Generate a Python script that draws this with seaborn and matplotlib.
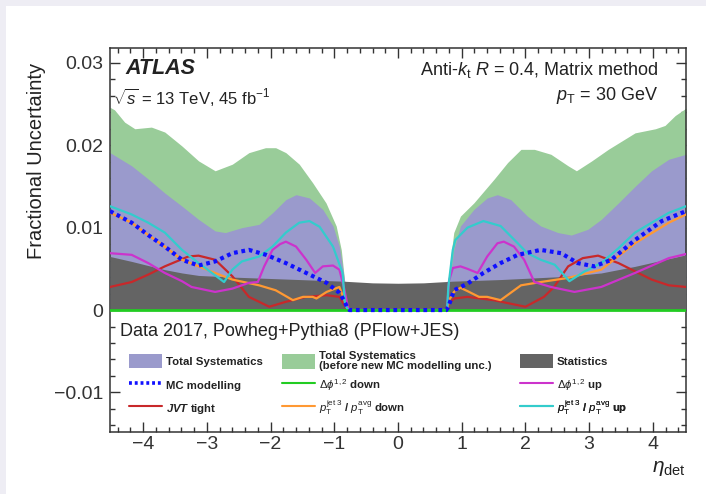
import numpy as np
import pandas as pd
import matplotlib
matplotlib.use("Agg")
import matplotlib.pyplot as plt
from matplotlib.patches import Patch, Rectangle
from matplotlib.lines import Line2D
from matplotlib.ticker import MultipleLocator, FuncFormatter
import seaborn as sns

# ---------------- data ----------------
tot_before_eta = [-4.52, -4.45, -4.29, -4.13, -3.87, -3.66, -3.39, -3.13, -2.87, -2.60, -2.34, -2.08,
                  -1.92, -1.76, -1.55, -1.34, -1.13, -0.97, -0.89, -0.84, -0.79, -0.77,
                  0.77, 0.79, 0.81, 0.875, 0.98, 1.19, 1.51, 1.72, 1.93, 2.14, 2.40, 2.67, 2.80,
                  3.04, 3.30, 3.72, 4.04, 4.19, 4.35, 4.52]
tot_before_val = [0.0246, 0.0243, 0.0228, 0.0220, 0.0222, 0.0216, 0.0199, 0.0181, 0.0169, 0.0177, 0.0191, 0.0197,
                  0.0197, 0.0191, 0.0177, 0.01545, 0.0130, 0.0102, 0.0073, 0.0037, 0.0002, 0.0,
                  0.0, 0.0020, 0.0053, 0.0094, 0.0114, 0.0130, 0.0159, 0.0179, 0.0195, 0.0195, 0.0189, 0.0175, 0.0169,
                  0.0181, 0.0195, 0.0215, 0.0220, 0.0224, 0.0236, 0.0245]

tot_sys_eta = [-4.52, -4.18, -3.92, -3.66, -3.39, -3.13, -2.87, -2.71, -2.45, -2.18, -1.97, -1.76, -1.60,
               -1.39, -1.18, -1.02, -0.92, -0.84, -0.79, -0.77,
               0.77, 0.80, 0.875, 0.98, 1.19, 1.40, 1.56, 1.77, 2.03, 2.24, 2.51, 2.72, 2.98, 3.19,
               3.46, 3.72, 3.98, 4.25, 4.52]
tot_sys_val = [0.0191, 0.0175, 0.0159, 0.0142, 0.0126, 0.0110, 0.0096, 0.0094, 0.0100, 0.0104, 0.0118, 0.0134, 0.0140,
               0.0136, 0.0122, 0.0102, 0.0077, 0.0037, 0.0002, 0.0,
               0.0, 0.0028, 0.0073, 0.0102, 0.0122, 0.0136, 0.0140, 0.0134, 0.0114, 0.0102, 0.0094, 0.0091, 0.0098, 0.0110,
               0.0130, 0.0150, 0.0169, 0.0183, 0.0189]

stat_eta = [-4.52, -4.18, -3.66, -3.39, -3.13, -2.60, -1.55, -0.85, -0.4, 0.0, 0.4, 0.85, 1.61, 2.67,
            3.19, 3.72, 4.52]
stat_val = [0.0065, 0.0059, 0.0049, 0.0045, 0.0042, 0.0040, 0.0037, 0.0035, 0.0033, 0.00325, 0.0033, 0.0035, 0.0037,
            0.0041, 0.0045, 0.0053, 0.0067]

mc_eta = [-4.52, -4.18, -3.92, -3.66, -3.39, -3.13, -2.87, -2.60, -2.34, -2.07, -1.76, -1.44, -1.12, -0.92,
          -0.85, -0.79, -0.76, 0.76, 0.79, 0.88, 1.09, 1.34, 1.61, 1.88, 2.24, 2.56, 2.82, 3.08, 3.35,
          3.72, 4.14, 4.52]
mc_val = [0.0120, 0.0106, 0.0091, 0.0077, 0.0061, 0.0054, 0.0059, 0.0069, 0.0073, 0.0067, 0.0057, 0.0045, 0.0033,
          0.0021, 0.0012, 0.0002, 0.0, 0.0, 0.0004, 0.0024, 0.0032, 0.0045, 0.0057, 0.0067, 0.0073, 0.0069, 0.0057,
          0.0053, 0.0061, 0.0085, 0.0108, 0.0120]

dphi_down_eta = [-4.52, 4.52]
dphi_down_val = [0.0, 0.0]

dphi_up_eta = [-4.52, -4.18, -3.92, -3.66, -3.39, -3.24, -2.87, -2.60, -2.34, -2.20, -2.10, -1.97, -1.85, -1.76,
               -1.60, -1.44, -1.30, -1.18, -1.02, -0.92, -0.85, -0.79, -0.77,
               0.77, 0.80, 0.86, 0.98, 1.09, 1.25, 1.40, 1.56, 1.66, 1.82, 1.98, 2.14, 2.40, 2.77, 3.19,
               3.72, 4.25, 4.52]
dphi_up_val = [0.0069, 0.0067, 0.0057, 0.0045, 0.0035, 0.0028, 0.0022, 0.0026, 0.0033, 0.0034, 0.0053, 0.0073, 0.0080,
               0.0083, 0.0077, 0.0061, 0.0045, 0.0053, 0.0054, 0.0049, 0.0028, 0.0005, 0.0,
               0.0, 0.0035, 0.0051, 0.0053, 0.0050, 0.0045, 0.0065, 0.0081, 0.0083, 0.0077, 0.0061, 0.0034, 0.0028,
               0.0022, 0.0028, 0.0045, 0.0063, 0.0068]

jvt_eta = [-4.52, -4.18, -3.92, -3.66, -3.29, -3.13, -2.87, -2.60, -2.34, -2.02, -1.76, -1.44, -1.12, -0.92,
           -0.82, -0.77, 0.77, 0.80, 0.88, 1.09, 1.50, 2.00, 2.29, 2.45, 2.67, 2.90, 3.14, 3.46, 3.72,
           3.98, 4.25, 4.52]
jvt_val = [0.0028, 0.0034, 0.0043, 0.0053, 0.0065, 0.0066, 0.0061, 0.0041, 0.0016, 0.0004, 0.0010, 0.0016, 0.0018,
           0.0016, 0.0003, 0.0, 0.0, 0.0008, 0.0014, 0.0016, 0.0012, 0.0004, 0.0016, 0.0028, 0.0053, 0.0063,
           0.0066, 0.0057, 0.0047, 0.0037, 0.0030, 0.0028]

pt_down_eta = [-4.52, -4.18, -3.92, -3.66, -3.39, -3.13, -2.87, -2.60, -2.18, -1.92, -1.65, -1.49, -1.34,
               -1.28, -1.12, -0.92, -0.84, -0.78, 0.77, 0.80, 0.88, 0.98, 1.09, 1.27, 1.40, 1.61, 1.93,
               2.24, 2.67, 3.19, 3.72, 4.25, 4.52]
pt_down_val = [0.0118, 0.0106, 0.0091, 0.0077, 0.0061, 0.0053, 0.0045, 0.0037, 0.0030, 0.0024, 0.0012, 0.0016, 0.0016,
               0.0014, 0.0022, 0.0028, 0.0012, 0.0, 0.0, 0.0012, 0.0022, 0.0027, 0.0023, 0.0016, 0.0016, 0.0012,
               0.0030, 0.0034, 0.0039, 0.0049, 0.0081, 0.0106, 0.0116]

pt_up_eta = [-4.52, -4.18, -3.92, -3.66, -3.39, -3.13, -2.92, -2.73, -2.60, -2.45, -2.18, -1.97, -1.76, -1.55,
             -1.39, -1.23, -1.02, -0.87, -0.83, -0.78, 0.77, 0.79, 0.86, 0.90, 1.09, 1.34, 1.61, 1.88, 2.03,
             2.24, 2.46, 2.69, 2.93, 3.19, 3.46, 3.72, 3.98, 4.25, 4.52]
pt_up_val = [0.0126, 0.0116, 0.0106, 0.0094, 0.0073, 0.0057, 0.0045, 0.0034, 0.0049, 0.0059, 0.0065, 0.0077, 0.0094,
             0.0106, 0.0108, 0.0101, 0.0077, 0.0045, 0.0006, 0.0, 0.0, 0.0028, 0.0073, 0.0085, 0.0100, 0.0108,
             0.0102, 0.0081, 0.0069, 0.0061, 0.0055, 0.0035, 0.0047, 0.0057, 0.0075, 0.0094, 0.0106, 0.0118, 0.0126]

xtick_vals = [-4, -3, -2, -1, 0, 1, 2, 3, 4]
ytick_vals = [-0.01, 0.0, 0.01, 0.02, 0.03]

# ---------------- style ----------------
sns.set_style("ticks")
plt.rcParams["font.family"] = ["Liberation Sans", "DejaVu Sans"]
plt.rcParams["mathtext.fontset"] = "custom"
plt.rcParams["mathtext.rm"] = "Liberation Sans"
plt.rcParams["mathtext.it"] = "Liberation Sans:italic"
plt.rcParams["mathtext.bf"] = "Liberation Sans:bold"
plt.rcParams["mathtext.bfit"] = "Liberation Sans:italic:bold"
plt.rcParams["axes.edgecolor"] = "#333333"
plt.rcParams["xtick.color"] = "#333333"
plt.rcParams["ytick.color"] = "#333333"
plt.rcParams["text.color"] = "#222222"
plt.rcParams["axes.labelcolor"] = "#222222"

C_PURPLE = "#9a9acc"
C_GREEN_F = "#99cc99"
C_GRAY = "#646464"
C_BLUE = "#1010ff"
C_GREEN_L = "#22cc22"
C_MAGENTA = "#cc33cc"
C_RED = "#c8282a"
C_ORANGE = "#ff9933"
C_CYAN = "#33cccc"

W, H = 706, 494
fig = plt.figure(figsize=(W / 100, H / 100), dpi=100)
fig.patch.set_facecolor("#eeedf4")
fig.patches.append(Rectangle((6 / W, 0), 1, 1 - 6 / H, transform=fig.transFigure,
                             facecolor="white", edgecolor="none", zorder=-10))

L, R, T, B = 110, 686, 48, 432
ax = fig.add_axes([L / W, (H - B) / H, (R - L) / W, (B - T) / H])
ax.set_facecolor("white")


def ax_x(px):
    return (px - L) / (R - L)


def ax_y(py):
    return (B - py) / (B - T)


# bands
ax.fill_between(tot_before_eta, 0, tot_before_val, color=C_GREEN_F, lw=0, zorder=1)
ax.fill_between(tot_sys_eta, 0, tot_sys_val, color=C_PURPLE, lw=0, zorder=2)
ax.fill_between(stat_eta, 0, stat_val, color=C_GRAY, lw=0, zorder=3)


# lines
def line(xv, yv, color, lw=1.6, ls="-", z=5):
    df = pd.DataFrame({"eta": xv, "unc": yv})
    sns.lineplot(data=df, x="eta", y="unc", ax=ax, color=color, lw=lw, linestyle=ls,
                 estimator=None, sort=False, zorder=z)


line(jvt_eta, jvt_val, C_RED)
line(pt_down_eta, pt_down_val, C_ORANGE)
line(dphi_up_eta, dphi_up_val, C_MAGENTA)
line(pt_up_eta, pt_up_val, C_CYAN)
line(dphi_down_eta, dphi_down_val, C_GREEN_L, lw=2.0, z=6)
line(mc_eta, mc_val, C_BLUE, lw=3.0, ls=(0, (0.9, 0.9)), z=7)

ax.set_xlim(-4.52, 4.52)
ax.set_ylim(-0.0148, 0.0318)
ax.set_xticks(xtick_vals)
ax.set_yticks(ytick_vals)
ax.xaxis.set_minor_locator(MultipleLocator(0.2))
ax.yaxis.set_minor_locator(MultipleLocator(0.002))
ax.yaxis.set_major_formatter(FuncFormatter(
    lambda v, p: "0" if abs(v) < 1e-9 else f"{v:.2f}".replace("-", "\u2212")))
ax.tick_params(which="both", direction="in", top=True, right=True, width=1.0, labelsize=14)
ax.tick_params(which="major", length=7.5)
ax.tick_params(which="minor", length=3.8)
ax.tick_params(axis="x", pad=3)
ax.tick_params(axis="y", pad=5)
for s in ax.spines.values():
    s.set_linewidth(1.1)

ax.set_ylabel("Fractional Uncertainty", fontsize=14.5)
ax.yaxis.set_label_coords(ax_x(46), 0.705)
ax.set_xlabel("")
ax.text(ax_x(686), ax_y(468), r"$\eta_{\mathrm{det}}$", fontsize=15, transform=ax.transAxes,
        ha="right", va="center")

# texts
ax.text(ax_x(125), ax_y(69), "ATLAS", fontsize=15.5, fontweight="bold",
        fontstyle="italic", transform=ax.transAxes, va="center", ha="left")
ax.text(ax_x(113), ax_y(97), r"$\sqrt{s}$ = 13 TeV, 45 fb$^{-1}$", fontsize=12,
        transform=ax.transAxes, va="center", ha="left")
ax.text(ax_x(658), ax_y(70), r"Anti-$k_{\mathrm{t}}$ $R$ = 0.4, Matrix method", fontsize=13,
        transform=ax.transAxes, va="center", ha="right")
ax.text(ax_x(658), ax_y(95), r"$p_{\mathrm{T}}$ = 30 GeV", fontsize=13,
        transform=ax.transAxes, va="center", ha="right")
ax.text(ax_x(120), ax_y(332), "Data 2017, Powheg+Pythia8 (PFlow+JES)", fontsize=13,
        transform=ax.transAxes, va="center", ha="left")

# legend: one entry per slot so rows line up across columns
lprop = {"weight": "bold", "size": 8.2}
col_px = [129, 282, 520]
row_px = [361, 385, 408]
entries = [
    (0, 0, Patch(facecolor=C_PURPLE, edgecolor="none"), "Total Systematics"),
    (0, 1, Line2D([], [], color=C_BLUE, lw=2.6, linestyle=(0, (0.8, 0.8))), "MC modelling"),
    (0, 2, Line2D([], [], color=C_RED, lw=1.5), r"$\mathbfit{JVT}$ tight"),
    (1, 0, Patch(facecolor=C_GREEN_F, edgecolor="none"),
     "Total Systematics\n(before new MC modelling unc.)"),
    (1, 1, Line2D([], [], color=C_GREEN_L, lw=1.5), r"$\Delta\phi^{1,2}$ down"),
    (1, 2, Line2D([], [], color=C_ORANGE, lw=1.5),
     r"$p_{\mathrm{T}}^{\mathrm{jet\ 3}}$ / $p_{\mathrm{T}}^{\mathrm{avg}}$ down"),
    (2, 0, Patch(facecolor=C_GRAY, edgecolor="none"), "Statistics"),
    (2, 1, Line2D([], [], color=C_MAGENTA, lw=1.5), r"$\Delta\phi^{1,2}$ up"),
    (2, 2, Line2D([], [], color=C_CYAN, lw=1.5),
     r"$p_{\mathrm{T}}^{\mathrm{jet\ 3}}$ / $p_{\mathrm{T}}^{\mathrm{avg}}$ up"),
]
for c, r, h, lab in entries:
    leg = ax.legend([h], [lab], loc="center left",
                    bbox_to_anchor=(ax_x(col_px[c]), ax_y(row_px[r])),
                    bbox_transform=ax.transAxes, frameon=False, prop=lprop, borderpad=0,
                    borderaxespad=0, handlelength=2.9, handleheight=1.6, handletextpad=0.35)
    for t in leg.get_texts():
        t.set_linespacing(1.05)
    ax.add_artist(leg)

fig.savefig("out.png", dpi=100, facecolor=fig.get_facecolor())
